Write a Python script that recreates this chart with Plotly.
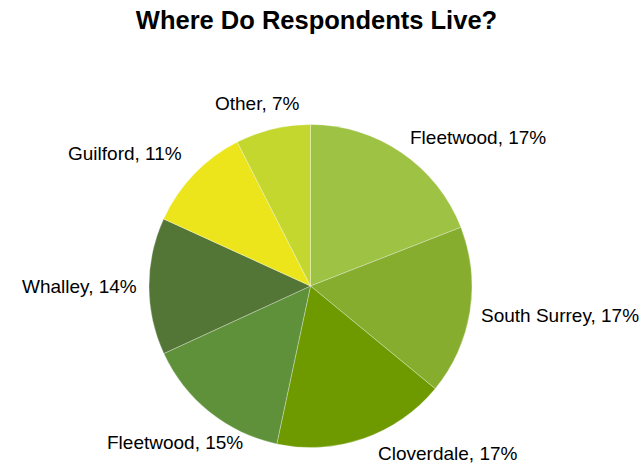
import math
import plotly.graph_objects as go

# Data
regions = ["Fleetwood", "South Surrey", "Cloverdale", "Fleetwood", "Whalley", "Guilford", "Other"]
# slice shares (measured from slice angles, in %)
shares = [19.1, 16.9, 17.4, 14.8, 13.7, 10.7, 7.5]
# percentage labels as printed on the chart
pct_labels = ["17%", "17%", "17%", "15%", "14%", "11%", "7%"]
colors = ["#9DC244", "#87AD2F", "#6E9A00", "#5F903A", "#537535", "#EDE51C", "#C3D72F"]

ids = [f"{r}_{i}" for i, r in enumerate(regions)]
texts = [f"{r}, {p}" for r, p in zip(regions, pct_labels)]

W, H = 642, 465
cx, cy, rad = 310.5, 286, 161.5

fig = go.Figure(go.Pie(
    labels=ids,
    values=shares,
    textinfo="none",
    sort=False,
    direction="clockwise",
    rotation=0,
    marker=dict(colors=colors, line=dict(color="rgba(255,255,255,0.5)", width=0.6)),
    showlegend=False,
    hovertext=texts,
    hoverinfo="text",
    domain=dict(x=[(cx - rad) / W, (cx + rad) / W],
                y=[1 - (cy + rad) / H, 1 - (cy - rad) / H]),
))

# Outside-end labels, placed from the slice mid-angles (with small label nudges)
nudges = {0: (2, -9), 1: (1, 3), 2: (10, 7), 3: (40, 24), 4: (-2, 0), 5: (-4, -15), 6: (31, -18)}
total = sum(shares)
cum = 0.0
gap = 8
for i, (s, t) in enumerate(zip(shares, texts)):
    mid = (cum + s / 2) / total * 2 * math.pi
    cum += s
    sn, cs = math.sin(mid), math.cos(mid)
    px = cx + (rad + gap) * sn
    py = cy - (rad + gap) * cs
    xa = "left" if sn > 0.1 else ("right" if sn < -0.1 else "center")
    dx, dy = nudges.get(i, (0, 0))
    px += dx
    py += dy
    fig.add_annotation(
        x=px / W, y=1 - py / H, xref="paper", yref="paper",
        text=t, showarrow=False, xanchor=xa, yanchor="middle",
        font=dict(family="Liberation Sans, Arial, sans-serif", size=19, color="#000000"),
    )

fig.update_layout(
    width=W, height=H,
    margin=dict(l=0, r=0, t=0, b=0),
    paper_bgcolor="white",
    plot_bgcolor="white",
    title=dict(text="<b>Where Do Respondents Live?</b>",
               x=316.5 / W, xanchor="center",
               y=1 - 20 / H, yanchor="middle",
               font=dict(family="Liberation Sans, Arial, sans-serif", size=25.5, color="#000000")),
)

fig.write_html("out.html", config={"displayModeBar": False},
               post_script="document.body.style.margin='0px';")
